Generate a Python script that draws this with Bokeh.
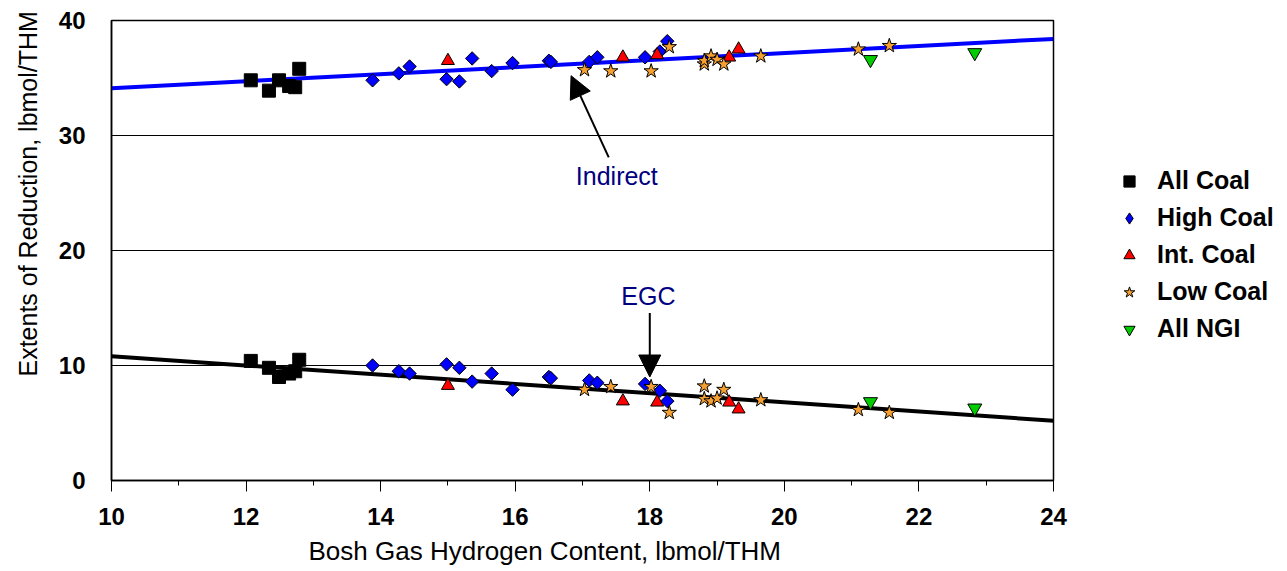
from bokeh.plotting import figure
from bokeh.models import (Legend, LegendItem, Arrow, NormalHead, Label, FixedTicker, Range1d, Title)
from bokeh.layouts import row
from bokeh.embed import file_html
from bokeh.resources import INLINE

# ---------------- data ----------------
all_coal_x = [12.07, 12.34, 12.49, 12.64, 12.73, 12.79]
all_coal_ind = [34.8, 33.9, 34.8, 34.3, 34.2, 35.8]
all_coal_egc = [10.4, 9.8, 9.0, 9.3, 9.5, 10.5]

high_x = [13.88, 14.27, 14.43, 14.98, 15.17, 15.36, 15.65, 15.96, 16.50, 16.53,
          17.10, 17.22, 17.93, 18.15, 18.26]
high_ind = [34.8, 35.4, 36.0, 34.9, 34.7, 36.7, 35.6, 36.3, 36.5, 36.4,
            36.4, 36.8, 36.8, 37.3, 38.2]
high_egc = [10.0, 9.5, 9.3, 10.1, 9.8, 8.6, 9.3, 7.9, 9.0, 8.9,
            8.7, 8.5, 8.4, 7.8, 6.9]

int_x = [15.00, 17.60, 18.11, 19.18, 19.32]
int_ind = [36.5, 36.8, 37.0, 36.8, 37.5]
int_egc = [8.25, 6.9, 6.8, 6.8, 6.2]

low_x = [17.03, 17.42, 18.02, 18.29, 18.81, 18.81, 18.91, 19.00, 19.10, 19.65, 21.10, 21.56]
low_ind = [35.7, 35.6, 35.6, 37.7, 36.2, 36.5, 36.9, 36.6, 36.2, 36.9, 37.5, 37.8]
low_egc = [7.9, 8.15, 8.15, 5.9, 8.2, 7.1, 6.9, 7.15, 7.9, 7.0, 6.15, 5.9]

ngi_x = [21.28, 22.83]
ngi_ind = [36.6, 37.2]
ngi_egc = [6.85, 6.3]

fit_x = [10, 24]
fit_ind = [34.1, 38.4]
fit_egc = [10.8, 5.2]

x_ticks = [10, 12, 14, 16, 18, 20, 22, 24]
y_ticks = [0, 10, 20, 30, 40]

series_names = ["All Coal", "High Coal", "Int. Coal", "Low Coal", "All NGI"]

FONT = "Liberation Sans"

STYLES = [
    dict(marker="square", size=13, fill_color="black", line_color="black"),
    dict(marker="square", angle=0.785398, size=9.5, fill_color="#0000FF", line_color="black", line_width=1),
    dict(marker="triangle", size=13, fill_color="#FF0000", line_color="black", line_width=1),
    dict(marker="star", size=15, fill_color="#F5A030", line_color="black", line_width=1),
    dict(marker="inverted_triangle", size=14, fill_color="#00CC00", line_color="black", line_width=1),
]
LEGEND_STYLES = [dict(s) for s in STYLES]
LEGEND_STYLES[1] = dict(marker="diamond", size=14, fill_color="#0000FF", line_color="black", line_width=1)

p = figure(width=1073, height=571, output_backend="svg", toolbar_location=None,
           x_range=Range1d(10, 24), y_range=Range1d(0, 40),
           min_border_left=111, min_border_right=20, min_border_top=20, min_border_bottom=90)
p.outline_line_color = "black"
p.outline_line_width = 1.5
p.background_fill_color = "white"
p.border_fill_color = "white"

# grid
p.xgrid.visible = False
p.ygrid.ticker = FixedTicker(ticks=[10, 20, 30])
p.ygrid.grid_line_color = "black"
p.ygrid.grid_line_width = 1

# axes
p.xaxis.ticker = FixedTicker(ticks=x_ticks, minor_ticks=list(range(10, 25)))
p.yaxis.ticker = FixedTicker(ticks=y_ticks)
for ax in (p.xaxis[0], p.yaxis[0]):
    ax.major_label_text_font = FONT
    ax.major_label_text_font_style = "bold"
    ax.major_label_text_font_size = "24px"
    ax.major_label_text_color = "black"
    ax.axis_line_color = "black"
    ax.axis_line_width = 1.5
p.xaxis.major_tick_in = 0
p.xaxis.major_tick_out = 11
p.xaxis.minor_tick_in = 0
p.xaxis.minor_tick_out = 5
p.xaxis.major_tick_line_color = "black"
p.xaxis.minor_tick_line_color = "black"
p.xaxis.major_label_standoff = 16
p.yaxis.major_tick_line_color = None
p.yaxis.minor_tick_line_color = None
p.yaxis.major_tick_out = 0
p.yaxis.major_tick_in = 0
p.yaxis.minor_tick_out = 0
p.yaxis.major_label_standoff = 26

# axis titles (positioned like the original chart)
p.add_layout(Title(text="Bosh Gas Hydrogen Content, lbmol/THM", align="left", offset=197,
                   text_font=FONT, text_font_size="26px", text_font_style="normal",
                   text_color="black", standoff=12), "below")
p.add_layout(Title(text="Extents of Reduction, lbmol/THM", align="left", offset=104,
                   vertical_align="top",
                   text_font=FONT, text_font_size="25px", text_font_style="normal",
                   text_color="black", standoff=23), "left")

# fit lines
p.line(fit_x, fit_ind, line_color="#0000FF", line_width=4)
p.line(fit_x, fit_egc, line_color="black", line_width=4)

# markers
series = [
    (all_coal_x, all_coal_ind, all_coal_egc),
    (high_x, high_ind, high_egc),
    (int_x, int_ind, int_egc),
    (low_x, low_ind, low_egc),
    (ngi_x, ngi_ind, ngi_egc),
]
for (sx, s_ind, s_egc), st in zip(series, STYLES):
    p.scatter(sx + sx, s_ind + s_egc, **st)

# annotations
p.add_layout(Arrow(end=NormalHead(size=22, fill_color="black", line_color="black"),
                   x_start=17.39, y_start=28.1, x_end=16.83, y_end=35.2,
                   line_color="black", line_width=2))
p.add_layout(Label(x=17.51, y=26.45, text="Indirect", text_align="center",
                   text_baseline="alphabetic", text_font=FONT, text_font_size="25px",
                   text_color="#000080"))
p.add_layout(Arrow(end=NormalHead(size=22, fill_color="black", line_color="black"),
                   x_start=18.0, y_start=14.56, x_end=18.0, y_end=9.0,
                   line_color="black", line_width=2))
p.add_layout(Label(x=17.98, y=16.05, text="EGC", text_align="center",
                   text_baseline="alphabetic", text_font=FONT, text_font_size="25px",
                   text_color="#000080"))

# legend panel (separate figure to the right of the plot); its glyphs sit off-range
pl = figure(width=214, height=571, output_backend="svg", toolbar_location=None,
            x_range=Range1d(0, 1), y_range=Range1d(0, 1),
            x_axis_location=None, y_axis_location=None,
            min_border_left=0, min_border_right=0, min_border_top=0, min_border_bottom=0)
pl.grid.visible = False
pl.outline_line_color = None
pl.background_fill_color = "white"
pl.border_fill_color = "white"

items = []
for name, (sx, s_ind, s_egc), st in zip(series_names, series, LEGEND_STYLES):
    r = pl.scatter(x=sx[:1], y=s_ind[:1], **st)
    items.append(LegendItem(label=name, renderers=[r]))

legend = Legend(items=items, location=(42, 137))
legend.label_text_font = FONT
legend.label_text_font_style = "bold"
legend.label_text_font_size = "25px"
legend.label_text_color = "black"
legend.border_line_color = None
legend.background_fill_alpha = 0
legend.glyph_width = 28
legend.glyph_height = 28
legend.label_height = 28
legend.spacing = 8
legend.label_standoff = 14
legend.margin = 0
legend.padding = 0
pl.add_layout(legend, "center")

layout = row(p, pl, spacing=0)
open("out.html", "w").write(file_html(layout, INLINE))
